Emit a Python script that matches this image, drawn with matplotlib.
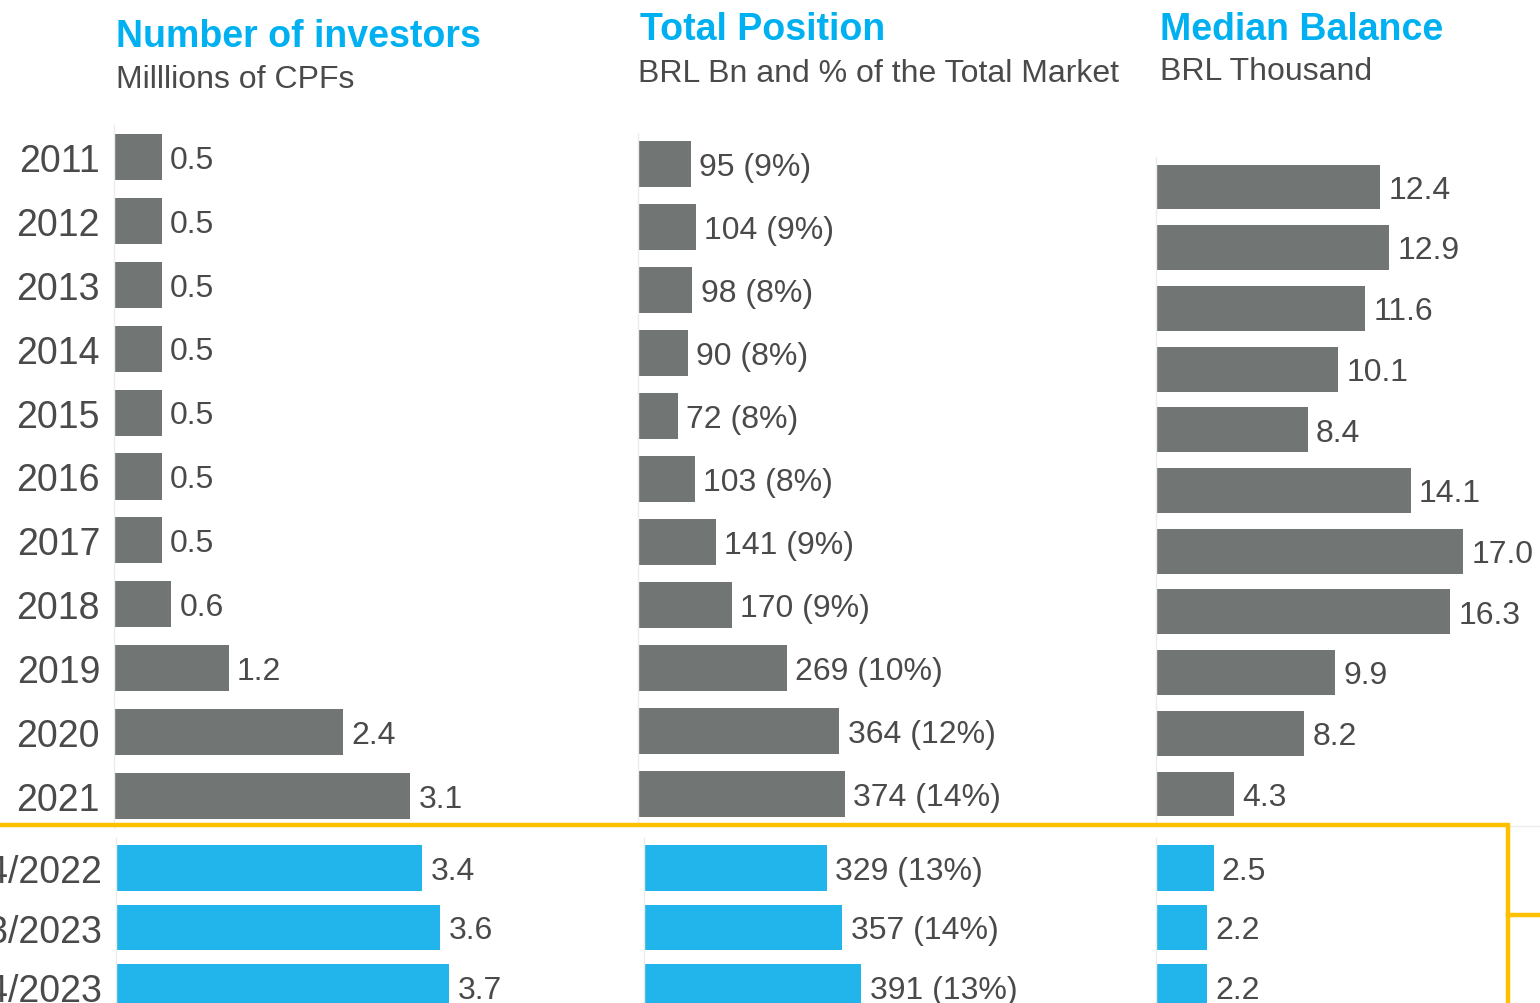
import matplotlib.pyplot as plt
from matplotlib.lines import Line2D

# data
years = ["2011", "2012", "2013", "2014", "2015", "2016", "2017", "2018", "2019", "2020", "2021"]
quarters = ["Q4/2022", "Q3/2023", "Q4/2023"]

investors = [0.5, 0.5, 0.5, 0.5, 0.5, 0.5, 0.5, 0.6, 1.2, 2.4, 3.1]
investors_q = [3.4, 3.6, 3.7]

position = [95, 104, 98, 90, 72, 103, 141, 170, 269, 364, 374]
position_pct = [9, 9, 8, 8, 8, 8, 9, 9, 10, 12, 14]
position_q = [329, 357, 391]
position_q_pct = [13, 14, 13]

median = [12.4, 12.9, 11.6, 10.1, 8.4, 14.1, 17.0, 16.3, 9.9, 8.2, 4.3]
median_q = [2.5, 2.2, 2.2]

W, H = 1540, 1004
GRAY = "#717674"
BLUE = "#22B5EC"
TITLE_BLUE = "#00B0F0"
TXT = "#4a4a4a"
YELLOW = "#FFC000"

plt.rcParams["font.family"] = ["Liberation Sans", "DejaVu Sans"]
fig = plt.figure(figsize=(W / 100, H / 100), dpi=100)


def px_axes(x0, top, w, h):
    return fig.add_axes([x0 / W, 1 - (top + h) / H, w / W, h / H])


def panel(x0, center0, step, n, w, xmax, vals, labels, color, barh_frac, ticks=None):
    top = center0 - step / 2
    ax = px_axes(x0, top, w, step * n)
    y = list(range(n))
    bars = ax.barh(y, vals, height=barh_frac, color=color, edgecolor="none")
    anns = ax.bar_label(bars, labels=labels, padding=6, fontsize=23, color=TXT)
    # nudge the numbers down a little so the digits sit on the bar centre
    for a in anns:
        a.xyann = (6, -2)
    ax.set_ylim(n - 0.5, -0.5)
    ax.set_xlim(0, xmax)
    for s in ["top", "right", "bottom"]:
        ax.spines[s].set_visible(False)
    ax.spines["left"].set_color("#ececec")
    ax.spines["left"].set_linewidth(1)
    ax.set_xticks([])
    if ticks:
        ax.set_yticks(y)
        ax.set_yticklabels(ticks, fontsize=27, color=TXT)
        ax.tick_params(axis="y", length=0, pad=10)
    else:
        ax.set_yticks([])
    ax.patch.set_alpha(0)
    return ax


n = len(years)
nq = len(quarters)

# investors
panel(114, 158, 63.9, n, 480, 480 / 95.5, investors,
      [f"{v:.1f}" for v in investors], GRAY, 0.72, years)
panel(116, 869, 59.5, nq, 480, 480 / 90.0, investors_q,
      [f"{v:.1f}" for v in investors_q], BLUE, 0.76, quarters)

# total position
panel(638, 165, 63.0, n, 480, 480 / 0.553, position,
      [f"{v} ({p}%)" for v, p in zip(position, position_pct)], GRAY, 0.73)
panel(644, 869, 59.5, nq, 480, 480 / 0.556, position_q,
      [f"{v} ({p}%)" for v, p in zip(position_q, position_q_pct)], BLUE, 0.76)

# median balance
panel(1156, 188, 60.7, n, 380, 380 / 18.06, median,
      [f"{v:.1f}" for v in median], GRAY, 0.74)
panel(1156, 869, 59.5, nq, 340, 340 / 23.0, median_q,
      [f"{v:.1f}" for v in median_q], BLUE, 0.76)


# titles
def ftext(x, y, s, **kw):
    fig.text(x / W, 1 - y / H, s, va="baseline", ha="left", **kw)


ftext(116, 47, "Number of investors", fontsize=27, fontweight="bold", color=TITLE_BLUE)
ftext(116, 88, "Milllions of CPFs", fontsize=23, color=TXT)
ftext(640, 40, "Total Position", fontsize=27, fontweight="bold", color=TITLE_BLUE)
ftext(638, 82, "BRL Bn and % of the Total Market", fontsize=23, color=TXT)
ftext(1160, 40, "Median Balance", fontsize=27, fontweight="bold", color=TITLE_BLUE)
ftext(1160, 80, "BRL Thousand", fontsize=23, color=TXT)


# yellow highlight box
def fline(xs, ys, **kw):
    fig.add_artist(Line2D([x / W for x in xs], [1 - y / H for y in ys],
                          transform=fig.transFigure, **kw))


fline([1510, 1540], [827, 827], color="#ececec", lw=1)
fline([0, 1508, 1508], [826, 826, 1010], color=YELLOW, lw=3.2, solid_joinstyle="miter")
fline([1508, 1540], [916, 916], color=YELLOW, lw=3.2)

fig.savefig("out.png", dpi=100)
